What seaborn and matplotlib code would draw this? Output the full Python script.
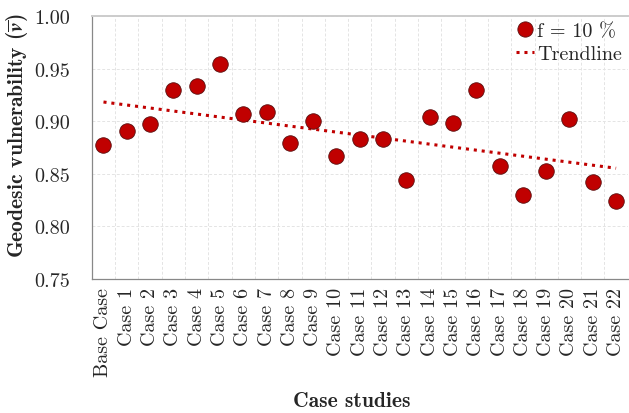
import numpy as np
import pandas as pd
import matplotlib
matplotlib.use("Agg")
import matplotlib.pyplot as plt
import seaborn as sns
from matplotlib.lines import Line2D

categories = ["Base Case"] + [f"Case {i}" for i in range(1, 23)]
values = [0.877, 0.891, 0.897, 0.930, 0.933, 0.954, 0.907, 0.909, 0.879, 0.900,
          0.867, 0.883, 0.883, 0.844, 0.904, 0.898, 0.930, 0.857, 0.830, 0.853,
          0.902, 0.842, 0.824]
yticks = [0.75, 0.80, 0.85, 0.90, 0.95, 1.00]

sns.set_style("white")
plt.rcParams["font.family"] = ["cmr10", "DejaVu Serif"]
plt.rcParams["mathtext.fontset"] = "cm"
plt.rcParams["axes.formatter.use_mathtext"] = True

df = pd.DataFrame({"idx": np.arange(len(categories)), "value": values})

fig = plt.figure(figsize=(6.29, 4.14), dpi=100)
ax = fig.add_axes([0.146, 0.324, 0.852, 0.635])

red = "#C00000"
edge = "#5a1010"
dots = (0, (1, 1.6))
sns.regplot(data=df, x="idx", y="value", ax=ax, scatter=False, ci=None,
            line_kws=dict(color=red, linestyle=dots, linewidth=2.2), truncate=True)
sns.scatterplot(data=df, x="idx", y="value", ax=ax, s=125, color=red,
                edgecolor=edge, linewidth=0.6, zorder=3, legend=False)

ax.set_xlim(-0.5, len(categories) - 0.5)
ax.set_ylim(0.75, 1.00)
ax.set_yticks(yticks)
ax.set_yticklabels([f"{t:.2f}" for t in yticks], fontsize=14.5)
ax.set_xticks(np.arange(len(categories)))
ax.set_xticklabels(categories, rotation=90, fontsize=14.5)
ax.set_xticks(np.arange(len(categories) + 1) - 0.5, minor=True)
ax.tick_params(axis="x", which="major", length=0, pad=6)
ax.tick_params(axis="x", which="minor", length=5.5, width=0.8, color="#888888", direction="out")
ax.tick_params(axis="y", which="major", length=6.5, width=0.8, color="#888888", direction="out", pad=9)

ax.grid(True, axis="y", which="major", color="#e4e4e4", linestyle=(0, (3, 2)), linewidth=0.7)
ax.grid(True, axis="x", which="minor", color="#e4e4e4", linestyle=(0, (3, 2)), linewidth=0.7)
ax.grid(False, axis="x", which="major")

for s in ["left", "bottom"]:
    ax.spines[s].set_color("#888888")
    ax.spines[s].set_linewidth(0.9)
ax.spines["top"].set_color("#cccccc")
ax.spines["top"].set_linewidth(1.4)
ax.spines["right"].set_visible(False)

ax.set_xlabel("Case studies", fontsize=15.5, fontfamily=["cmb10", "DejaVu Serif"])
ax.set_ylabel(r"Geodesic vulnerability ($\overline{\mathbfit{v}}$)", fontsize=15.5,
              fontfamily=["cmb10", "DejaVu Serif"])
ax.xaxis.set_label_coords(0.485, -0.425)
ax.yaxis.set_label_coords(-0.115, 0.55)

handles = [
    Line2D([0], [0], marker="o", linestyle="none", markersize=11, markerfacecolor=red,
           markeredgecolor=edge, markeredgewidth=0.6),
    Line2D([0], [0], color=red, linestyle=dots, linewidth=2.2),
]
ax.legend(handles, ["f = 10 %", "Trendline"], loc="upper right", frameon=False,
          fontsize=14.5, handlelength=0.9, handletextpad=0.15, borderaxespad=0.1,
          borderpad=0.2, labelspacing=0.25)

fig.savefig("out.png", dpi=100)
